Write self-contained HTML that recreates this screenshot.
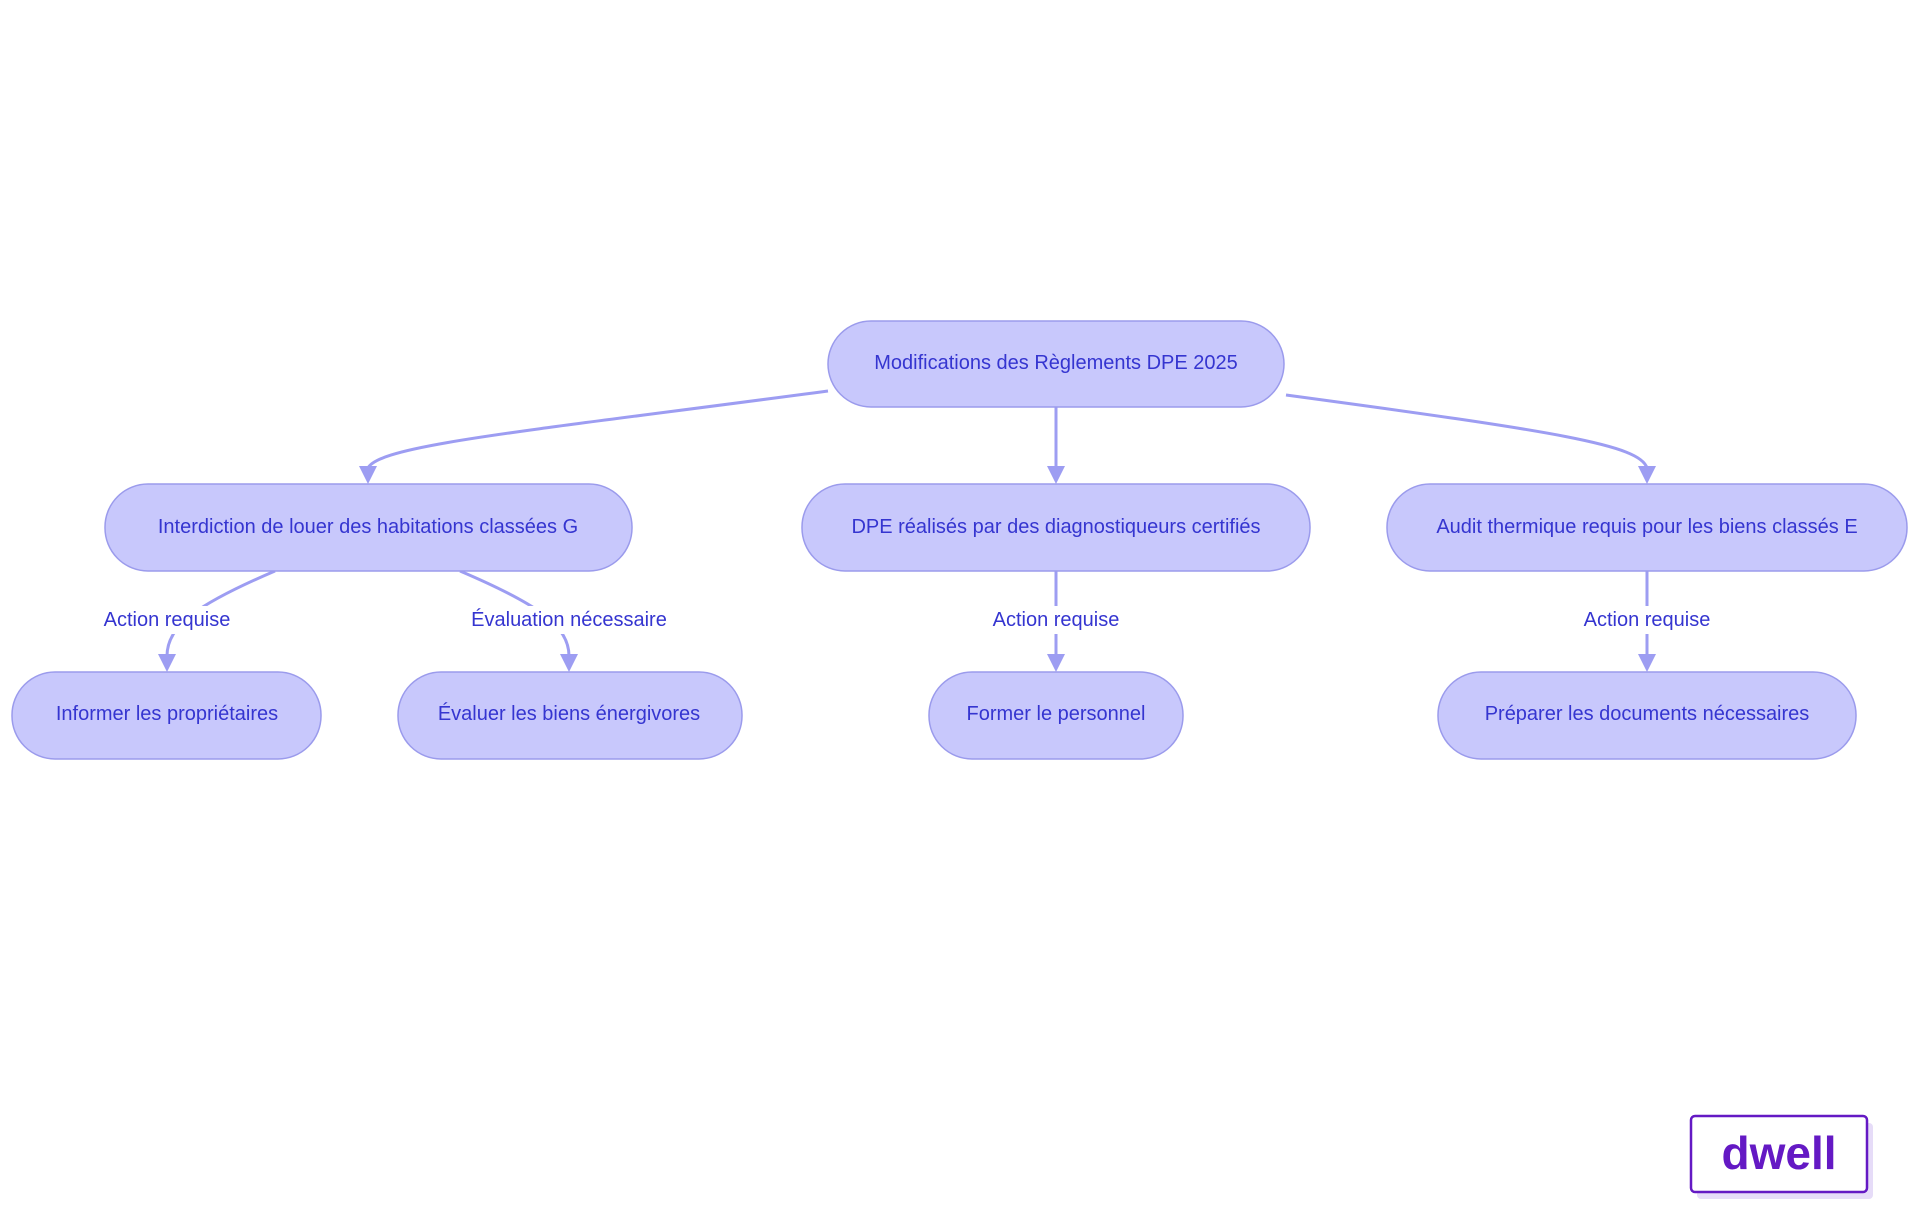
<!DOCTYPE html>
<html><head><meta charset="utf-8"><style>
body{margin:0;background:#fff;}
svg{display:block}
text{font-family:"Liberation Sans",sans-serif;fill:#3535d0;font-size:20px;text-anchor:middle;dominant-baseline:central}
.n{fill:#c8c8fc;stroke:#9b9bec;stroke-width:1.5}
.e{fill:none;stroke:#9d9df2;stroke-width:3}
.a{fill:#9d9df2}
</style></head><body>
<svg width="1920" height="1215" viewBox="0 0 1920 1215">
<path class="e" d="M828,391 C520,432 380,445 368,468"/>
<polygon class="a" points="359,466 377,466 368,484"/>
<path class="e" d="M1056,407 L1056,468"/>
<polygon class="a" points="1047,466 1065,466 1056,484"/>
<path class="e" d="M1286,395 C1560,432 1640,445 1647,468"/>
<polygon class="a" points="1638,466 1656,466 1647,484"/>
<path class="e" d="M275,571 C200,603 167,625 167,656"/>
<polygon class="a" points="158,654 176,654 167,672"/>
<path class="e" d="M460,571 C535,603 569,625 569,656"/>
<polygon class="a" points="560,654 578,654 569,672"/>
<path class="e" d="M1056,571 L1056,656"/>
<polygon class="a" points="1047,654 1065,654 1056,672"/>
<path class="e" d="M1647,571 L1647,656"/>
<polygon class="a" points="1638,654 1656,654 1647,672"/>
<rect x="95" y="606" width="144" height="28" fill="#fff"/><text x="167" y="620">Action requise</text>
<rect x="465" y="606" width="208" height="28" fill="#fff"/><text x="569" y="620">Évaluation nécessaire</text>
<rect x="984" y="606" width="144" height="28" fill="#fff"/><text x="1056" y="620">Action requise</text>
<rect x="1575" y="606" width="144" height="28" fill="#fff"/><text x="1647" y="620">Action requise</text>
<rect class="n" x="828" y="321" width="456" height="86" rx="43"/><text x="1056" y="363">Modifications des Règlements DPE 2025</text>
<rect class="n" x="105" y="484" width="527" height="87" rx="43"/><text x="368" y="527">Interdiction de louer des habitations classées G</text>
<rect class="n" x="802" y="484" width="508" height="87" rx="43"/><text x="1056" y="527">DPE réalisés par des diagnostiqueurs certifiés</text>
<rect class="n" x="1387" y="484" width="520" height="87" rx="43"/><text x="1647" y="527">Audit thermique requis pour les biens classés E</text>
<rect class="n" x="12" y="672" width="309" height="87" rx="43"/><text x="167" y="714">Informer les propriétaires</text>
<rect class="n" x="398" y="672" width="344" height="87" rx="43"/><text x="569" y="714">Évaluer les biens énergivores</text>
<rect class="n" x="929" y="672" width="254" height="87" rx="43"/><text x="1056" y="714">Former le personnel</text>
<rect class="n" x="1438" y="672" width="418" height="87" rx="43"/><text x="1647" y="714">Préparer les documents nécessaires</text>
<rect x="1697" y="1123" width="176" height="76" rx="4" fill="#e6dcf8"/>
<rect x="1691" y="1116" width="176" height="76" rx="4" fill="#fff" stroke="#6419c4" stroke-width="2.5"/>
<text x="1779" y="1153" style="font-size:46px;font-weight:bold;fill:#6419c4">dwell</text>
</svg>
</body></html>
